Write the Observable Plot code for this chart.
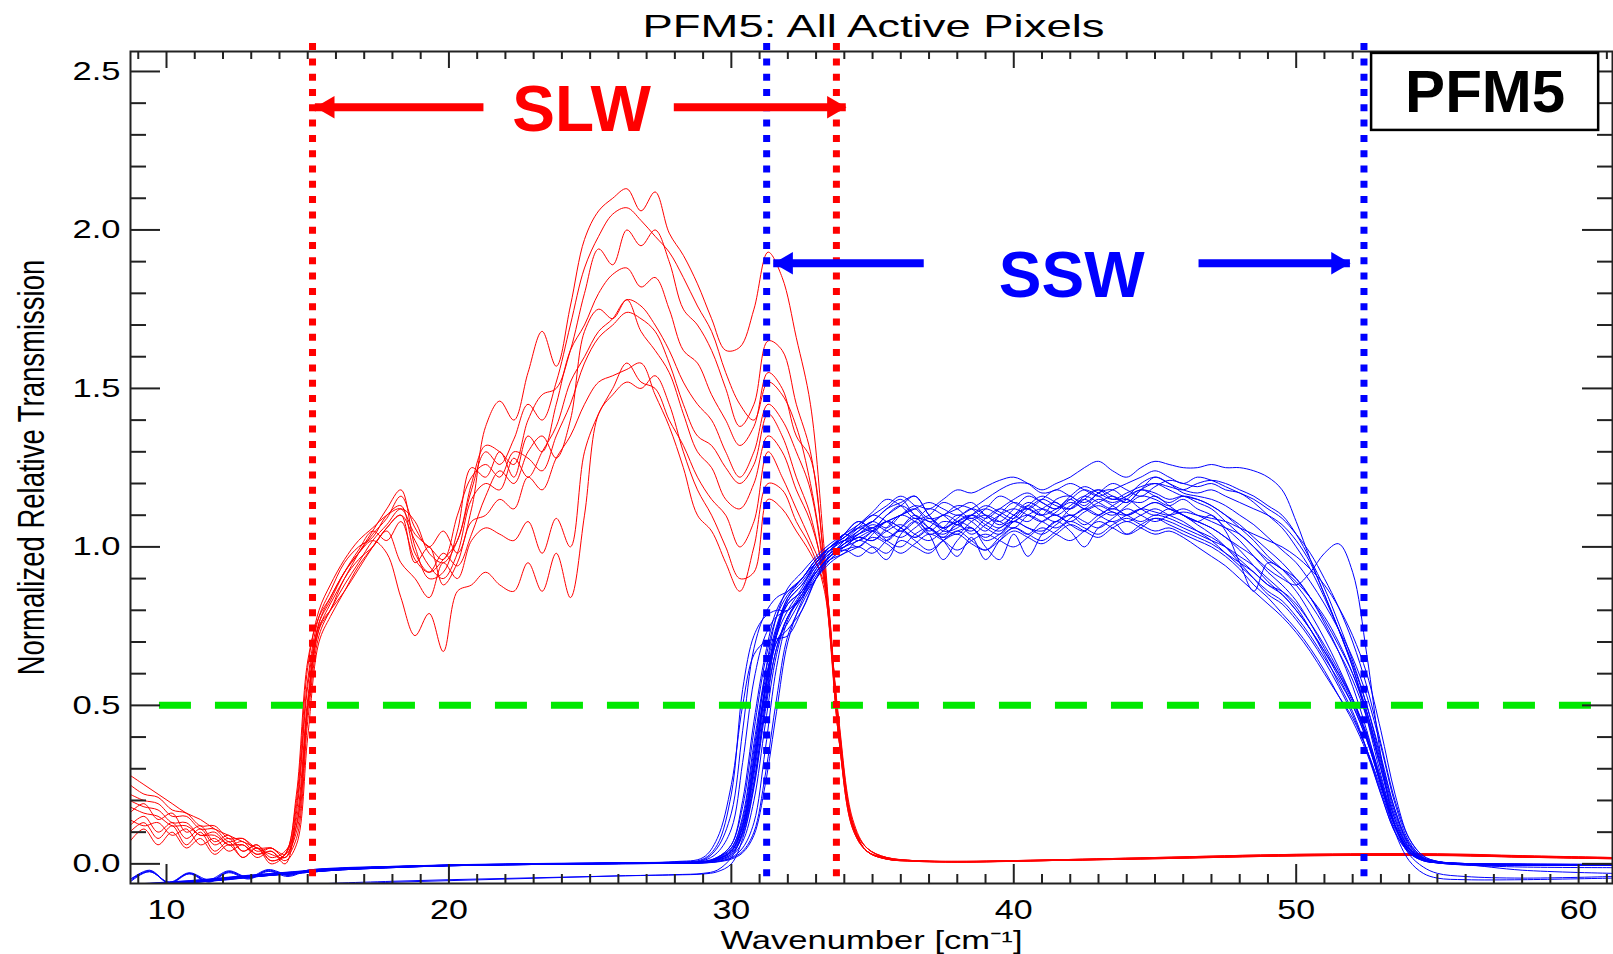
<!DOCTYPE html>
<html><head><meta charset="utf-8">
<script src="https://cdn.jsdelivr.net/npm/d3@7"></script>
<script src="https://cdn.jsdelivr.net/npm/@observablehq/plot@0.6"></script>
<style>
html,body{margin:0;padding:0;background:#fff;}
#chart svg{display:block;}
</style></head><body><div id="chart"></div>
<script>
// ---------- SLW (red) spectra: shared wavenumber grid + one array per pixel ----------
const slwX = [8.7,9.2,9.7,10.2,10.7,11.2,11.7,12.2,12.7,13.2,13.7,14.2,14.6,15.0,15.4,15.8,16.3,16.8,17.3,17.8,18.3,18.8,19.3,19.8,20.3,20.8,21.3,21.8,22.3,22.8,23.3,23.8,24.3,24.8,25.3,25.8,26.3,26.8,27.3,27.8,28.3,28.8,29.3,29.8,30.3,30.8,31.3,31.8,32.3,32.8,33.3,33.8,34.3,34.8,35.5,36.5,38,41,45,50,55,58,61.2];
const slwA = [0.12,0.15,0.10,0.13,0.08,0.11,0.06,0.08,0.04,0.06,0.02,0.04, 0.12,0.50,0.76,0.84, 0.92,0.98,1.04,1.09,1.16,1.06,1.00,1.05,0.98,1.12, 1.38,1.46,1.40,1.55,1.68,1.57,1.76,1.97,2.06,2.10, 2.13,2.06,2.12,1.99,1.92,1.83,1.72,1.62,1.63,1.75, 1.93,1.85,1.66,1.45,0.98,0.42,0.12,0.04, 0.015,0.008,0.005,0.01,0.018,0.027,0.028,0.022,0.018];
const slwB = [0.28,0.25,0.22,0.19,0.16,0.14,0.11,0.09,0.07,0.05,0.03,0.02, 0.08,0.45,0.72,0.80, 0.88,0.95,1.02,1.07,1.12,1.08,0.98,0.95,1.02,1.18, 1.30,1.26,1.34,1.45,1.40,1.52,1.70,1.88,1.98,2.05, 2.07,2.03,1.98,1.93,1.85,1.76,1.68,1.55,1.45,1.40, 1.52,1.48,1.38,1.20,0.92,0.45,0.13,0.04, 0.02,0.01,0.008,0.012,0.02,0.03,0.03,0.025,0.02];
const slwC = [0.20,0.18,0.17,0.13,0.13,0.09,0.10,0.06,0.07,0.03,0.05,0.02, 0.18,0.58,0.78,0.86, 0.95,1.00,1.03,1.10,1.13,0.98,0.92,0.96,1.02,1.20, 1.32,1.30,1.26,1.40,1.48,1.50,1.62,1.80,1.94,1.89, 2.00,1.95,2.00,1.90,1.75,1.70,1.62,1.50,1.38,1.45, 1.65,1.62,1.45,1.30,0.95,0.44,0.12,0.04, 0.015,0.01,0.007,0.01,0.017,0.026,0.027,0.022,0.017];
const slwD = [0.25,0.22,0.21,0.17,0.16,0.12,0.12,0.08,0.08,0.05,0.05,0.03, 0.10,0.48,0.74,0.82, 0.90,0.98,1.05,1.12,1.18,1.00,0.90,0.92,1.05,1.25, 1.22,1.30,1.22,1.35,1.30,1.45,1.62,1.70,1.80,1.86, 1.88,1.82,1.85,1.75,1.62,1.58,1.48,1.40,1.32,1.38, 1.55,1.50,1.35,1.28,0.93,0.46,0.14,0.05, 0.02,0.01,0.008,0.012,0.02,0.03,0.032,0.026,0.02];
const slwE = [0.16,0.19,0.14,0.16,0.10,0.12,0.07,0.09,0.04,0.06,0.01,0.03, 0.14,0.52,0.75,0.80, 0.86,0.93,1.00,1.06,1.10,1.02,0.94,0.90,0.98,1.15, 1.20,1.18,1.28,1.22,1.30,1.38,1.52,1.60,1.68,1.72, 1.78,1.76,1.70,1.62,1.52,1.45,1.40,1.30,1.22,1.30, 1.45,1.40,1.30,1.18,0.90,0.42,0.12,0.04, 0.015,0.009,0.006,0.01,0.016,0.025,0.026,0.021,0.016];
const slwF = [0.07,0.11,0.06,0.10,0.05,0.08,0.03,0.06,0.02,0.05,0.00,0.03, 0.20,0.62,0.80,0.88, 0.96,1.02,1.06,1.10,1.12,1.04,1.00,0.96,1.10,1.22, 1.26,1.22,1.30,1.28,1.24,1.35,1.45,1.58,1.66,1.70, 1.74,1.72,1.68,1.58,1.45,1.35,1.32,1.25,1.20,1.26, 1.42,1.35,1.22,1.10,0.88,0.40,0.11,0.04, 0.018,0.01,0.007,0.011,0.018,0.028,0.03,0.024,0.019];
const slwG = [0.10,0.13,0.08,0.12,0.06,0.10,0.04,0.07,0.02,0.05,0.01,0.03, 0.22,0.64,0.78,0.84, 0.92,0.98,1.02,0.98,0.84,0.72,0.79,0.67,0.86,0.88, 0.92,0.88,0.86,0.95,0.86,0.98,0.84,1.10,1.42,1.48, 1.52,1.50,1.54,1.45,1.30,1.18,1.10,1.00,0.90,0.92, 1.15,1.12,1.05,0.98,0.88,0.40,0.12,0.04, 0.015,0.008,0.006,0.01,0.016,0.025,0.027,0.021,0.016];
const slwH = [0.22,0.20,0.19,0.15,0.15,0.11,0.11,0.07,0.08,0.04,0.05,0.02, 0.12,0.50,0.74,0.80, 0.90,0.96,1.00,1.05,0.95,0.90,0.84,0.95,0.90,1.02, 1.06,1.04,1.02,1.08,0.98,1.09,1.00,1.30,1.42,1.50, 1.58,1.52,1.50,1.40,1.32,1.22,1.15,1.10,1.00,1.08, 1.30,1.22,1.12,1.02,0.90,0.42,0.12,0.05, 0.02,0.01,0.007,0.012,0.019,0.028,0.03,0.024,0.018];
const slwI = [0.18,0.16,0.15,0.12,0.12,0.09,0.09,0.06,0.06,0.03,0.04,0.01, 0.06,0.40,0.70,0.78, 0.86,0.94,1.00,1.06,1.10,0.95,1.00,0.88,0.95,1.08, 1.10,1.15,1.12,1.22,1.18,1.28,1.35,1.45,1.52,1.54, 1.56,1.58,1.48,1.38,1.25,1.10,1.05,0.95,0.86,1.00, 1.20,1.18,1.08,1.00,0.86,0.40,0.11,0.04, 0.016,0.009,0.006,0.01,0.017,0.026,0.028,0.022,0.017];
const slwJ = [0.14,0.12,0.13,0.09,0.11,0.06,0.08,0.04,0.06,0.02,0.04,0.00, 0.16,0.56,0.76,0.83, 0.92,0.99,1.05,1.02,1.08,0.96,0.92,0.98,0.94,1.04, 1.16,1.24,1.20,1.30,1.35,1.28,1.40,1.68,1.75,1.72, 1.78,1.68,1.62,1.55,1.42,1.30,1.25,1.15,1.12,1.20, 1.35,1.30,1.18,1.08,0.90,0.44,0.13,0.05, 0.018,0.01,0.007,0.011,0.018,0.027,0.029,0.023,0.018];
const slwCurves = [slwA, slwB, slwC, slwD, slwE, slwF, slwG, slwH, slwI, slwJ];

// ---------- SSW (blue) spectra ----------
const sswX = [8.7,9.4,10.1,10.8,11.5,12.2,12.9,13.6,14.3,15.0,16,18,20,22,24,26,28,29,29.5,30,30.4,30.8,31.2,31.6,32,32.5,33,33.5,34,34.5,35,35.5,36,36.5,37,37.5,38,38.5,39,39.5,40,40.5,41,41.5,42,42.5,43,43.5,44,44.5,45,45.5,46,46.5,47,47.5,48,48.5,49,49.5,50,50.5,51,51.5,52,52.5,53,53.5,54,54.5,55,56,58,61.2];
const ssw01 = [-0.07,-0.066,-0.062,-0.058,-0.052,-0.046,-0.04,-0.035,-0.03,-0.025,-0.018,-0.01,-0.005,-0.003,0,0,0.002, 0.005,0.02,0.06,0.2,0.45,0.66,0.8,0.86,0.9,0.96,1.0, 1.02,1.04,1.06,1.08,1.1,1.12,1.14,1.12,1.1,1.12,1.15,1.18,1.2,1.2,1.18,1.2,1.22,1.25,1.27,1.24,1.22,1.25,1.27,1.26,1.25,1.25,1.26,1.25,1.25,1.24,1.22, 1.18,1.08,0.96,0.85,0.74,0.62,0.46,0.28,0.13,0.05,0.015,0.006,0.001,-0.001,-0.002];
const ssw02 = [-0.075,-0.07,-0.066,-0.06,-0.055,-0.05,-0.043,-0.037,-0.032,-0.027,-0.02,-0.012,-0.006,-0.003,-0.001,0.001,0.003, 0.004,0.012,0.03,0.09,0.25,0.5,0.72,0.82,0.86,0.93,0.98, 1.0,1.03,1.02,1.06,1.1,1.08,1.04,1.06,1.1,1.08,1.05,1.1,1.14,1.12,1.1,1.15,1.16,1.13,1.17,1.18,1.15,1.14,1.16,1.13,1.1,1.08,1.1,1.05,0.95,0.86,0.95, 0.93,0.9,0.84,0.76,0.67,0.56,0.42,0.26,0.12,0.04,0.012,0.004,0,-0.003,-0.004];
const ssw03 = [-0.05,-0.02,-0.06,-0.03,-0.056,-0.024,-0.046,-0.02,-0.036,-0.02,-0.015,-0.009,-0.005,-0.002,0,0.001,0.003, 0.006,0.02,0.05,0.15,0.38,0.6,0.75,0.84,0.9,0.95,0.99, 1.04,1.02,1.05,1.1,1.13,1.1,1.05,1.08,1.07,1.05,1.09,1.12,1.1,1.08,1.12,1.14,1.1,1.12,1.15,1.13,1.1,1.12,1.14,1.12,1.1,1.08,1.06,1.03,1.0,0.97,0.93, 0.9,0.88,0.92,0.98,1.01,0.92,0.66,0.34,0.12,0.035,0.01,0.004,0,-0.002,-0.003];
const ssw04 = [-0.068,-0.064,-0.06,-0.056,-0.05,-0.044,-0.038,-0.033,-0.028,-0.023,-0.016,-0.009,-0.004,-0.002,0,0.002,0.004, 0.012,0.05,0.16,0.42,0.68,0.79,0.84,0.86,0.9,0.96,0.99, 1.0,1.04,1.06,1.02,1.0,1.04,1.06,1.03,1.05,1.06,1.02,1.04,1.08,1.06,1.05,1.08,1.1,1.07,1.1,1.12,1.1,1.08,1.1,1.09,1.07,1.05,1.03,1.0,0.96,0.92,0.88, 0.86,0.82,0.76,0.69,0.61,0.52,0.4,0.25,0.12,0.045,0.014,0.005,-0.002,-0.004,-0.005];
const ssw05 = [-0.07,-0.067,-0.063,-0.058,-0.053,-0.047,-0.041,-0.036,-0.031,-0.026,-0.019,-0.011,-0.006,-0.003,-0.001,0,0.002, 0.003,0.008,0.02,0.05,0.13,0.36,0.62,0.77,0.85,0.92,0.97, 1.01,1.05,1.08,1.12,1.15,1.1,1.08,1.06,1.08,1.1,1.12,1.1,1.08,1.12,1.15,1.13,1.12,1.16,1.18,1.15,1.16,1.2,1.22,1.2,1.18,1.17,1.18,1.16,1.14,1.12,1.1, 1.07,1.02,0.95,0.85,0.74,0.62,0.48,0.31,0.15,0.055,0.016,0.006,0,-0.002,-0.003];
const ssw06 = [-0.072,-0.068,-0.064,-0.059,-0.054,-0.048,-0.042,-0.036,-0.031,-0.026,-0.019,-0.011,-0.005,-0.002,0,0.001,0.003, 0.005,0.015,0.04,0.12,0.32,0.56,0.74,0.82,0.86,0.92,0.96, 0.98,1.02,1.0,0.96,1.04,1.08,1.04,0.96,1.02,1.06,1.0,0.96,1.04,0.97,1.04,1.08,1.05,1.0,1.06,1.08,1.04,1.06,1.09,1.08,1.06,1.04,1.02,1.0,0.97,0.94,0.9, 0.86,0.81,0.74,0.66,0.57,0.48,0.36,0.22,0.1,0.035,0.01,0.003,-0.003,-0.005,-0.005];
const ssw07 = [-0.05,-0.025,-0.058,-0.028,-0.05,-0.022,-0.042,-0.018,-0.033,-0.02,-0.013,-0.008,-0.004,-0.002,0,0.002,0.004, 0.006,0.02,0.06,0.18,0.42,0.64,0.78,0.85,0.9,0.96,1.0, 1.03,1.06,1.08,1.12,1.14,1.16,1.1,1.05,1.06,1.1,1.08,1.06,1.1,1.12,1.1,1.12,1.15,1.12,1.14,1.16,1.14,1.18,1.2,1.19,1.18,1.2,1.21,1.2,1.18,1.16,1.13, 1.1,1.04,0.96,0.87,0.76,0.64,0.5,0.33,0.17,0.065,0.02,0.007,0,-0.002,-0.003];
const ssw08 = [-0.074,-0.07,-0.065,-0.06,-0.055,-0.049,-0.043,-0.037,-0.032,-0.027,-0.02,-0.012,-0.006,-0.003,-0.001,0.001,0.003, 0.004,0.012,0.03,0.1,0.28,0.52,0.7,0.76,0.84,0.93,0.99, 1.02,1.0,1.04,1.08,1.06,1.03,1.06,1.1,1.08,1.04,1.07,1.1,1.12,1.1,1.08,1.11,1.14,1.12,1.1,1.13,1.15,1.12,1.1,1.12,1.1,1.07,1.04,1.0,0.95,0.9,0.85, 0.82,0.77,0.71,0.64,0.56,0.47,0.36,0.23,0.11,0.04,0.012,0.003,-0.004,-0.01,-0.012];
const ssw09 = [-0.09,-0.09,-0.088,-0.086,-0.083,-0.08,-0.077,-0.074,-0.071,-0.068,-0.065,-0.058,-0.053,-0.048,-0.043,-0.038,-0.034, -0.03,-0.02,0.02,0.1,0.3,0.55,0.74,0.83,0.88,0.95,1.0, 1.03,1.06,1.05,1.08,1.1,1.12,1.08,1.1,1.12,1.14,1.1,1.08,1.12,1.16,1.14,1.12,1.15,1.18,1.16,1.14,1.16,1.18,1.17,1.15,1.16,1.14,1.12,1.08,1.04,1.0,0.95, 0.91,0.86,0.79,0.71,0.62,0.52,0.4,0.25,0.1,0.01,-0.03,-0.045,-0.05,-0.05,-0.045];
const ssw10 = [-0.066,-0.062,-0.058,-0.054,-0.049,-0.043,-0.037,-0.032,-0.027,-0.022,-0.016,-0.009,-0.004,-0.001,0.001,0.003,0.005, 0.008,0.02,0.05,0.14,0.36,0.58,0.7,0.74,0.8,0.9,0.98, 1.04,1.08,1.05,1.02,1.06,1.1,1.06,1.03,1.08,1.1,1.07,1.05,1.09,1.13,1.1,1.08,1.12,1.15,1.12,1.1,1.13,1.16,1.15,1.13,1.15,1.12,1.1,1.06,1.02,0.97,0.92, 0.88,0.83,0.76,0.68,0.6,0.51,0.4,0.26,0.12,0.04,0.012,0.004,-0.001,-0.003,-0.004];
const ssw11 = [-0.069,-0.065,-0.061,-0.057,-0.051,-0.045,-0.04,-0.034,-0.029,-0.024,-0.017,-0.01,-0.005,-0.002,0,0.002,0.004, 0.006,0.016,0.04,0.12,0.3,0.54,0.72,0.83,0.88,0.94,0.99, 1.02,1.05,1.08,1.06,1.1,1.13,1.12,1.15,1.18,1.17,1.19,1.21,1.22,1.2,1.17,1.18,1.2,1.18,1.16,1.18,1.2,1.22,1.24,1.22,1.2,1.22,1.21,1.19,1.17,1.15,1.12, 1.09,1.04,0.98,0.9,0.81,0.7,0.56,0.38,0.2,0.08,0.025,0.008,0.001,-0.001,-0.002];
const ssw12 = [-0.073,-0.069,-0.065,-0.06,-0.054,-0.048,-0.042,-0.037,-0.032,-0.027,-0.02,-0.012,-0.006,-0.003,-0.001,0.001,0.003, 0.005,0.014,0.035,0.1,0.26,0.5,0.68,0.78,0.85,0.92,0.97, 0.99,0.97,1.0,0.98,1.02,1.0,0.98,1.02,1.05,1.02,0.99,1.03,1.06,1.04,1.02,1.05,1.08,1.06,1.04,1.07,1.09,1.07,1.05,1.06,1.04,1.02,1.0,0.97,0.93,0.88,0.84, 0.79,0.74,0.68,0.61,0.53,0.45,0.35,0.22,0.1,0.035,0.01,0.003,-0.003,-0.004,-0.005];
const ssw13 = [-0.055,-0.022,-0.062,-0.032,-0.058,-0.028,-0.048,-0.024,-0.04,-0.022,-0.016,-0.01,-0.005,-0.002,0,0.002,0.004, 0.005,0.015,0.04,0.12,0.34,0.6,0.78,0.87,0.92,0.97,1.01, 1.04,1.07,1.1,1.13,1.16,1.13,1.09,1.1,1.13,1.12,1.09,1.12,1.15,1.17,1.14,1.12,1.16,1.19,1.17,1.15,1.17,1.19,1.2,1.18,1.16,1.15,1.13,1.1,1.06,1.02,0.97, 0.93,0.88,0.82,0.75,0.67,0.58,0.46,0.3,0.14,0.05,0.014,0.004,-0.002,-0.02,-0.03];
const ssw14 = [-0.071,-0.067,-0.063,-0.059,-0.053,-0.047,-0.041,-0.035,-0.03,-0.025,-0.018,-0.01,-0.005,-0.002,0,0.001,0.002, 0.003,0.007,0.018,0.04,0.1,0.28,0.52,0.72,0.82,0.9,0.96, 1.0,1.03,1.02,1.05,1.07,1.04,1.02,1.05,1.08,1.06,1.03,1.06,1.08,1.06,1.04,1.07,1.1,1.08,1.06,1.09,1.12,1.1,1.08,1.1,1.12,1.1,1.08,1.06,1.04,1.0,0.96, 0.93,0.89,0.84,0.78,0.7,0.6,0.47,0.3,0.14,0.05,0.015,0.005,0,-0.002,-0.002];
const ssw15 = [-0.067,-0.063,-0.059,-0.055,-0.05,-0.044,-0.038,-0.033,-0.028,-0.023,-0.016,-0.009,-0.004,-0.001,0.001,0.003,0.006, 0.015,0.06,0.22,0.55,0.72,0.78,0.8,0.8,0.86,0.94,0.98, 1.01,1.04,1.07,1.05,1.03,1.06,1.09,1.06,1.04,1.08,1.1,1.08,1.06,1.1,1.12,1.1,1.08,1.11,1.13,1.11,1.1,1.12,1.14,1.12,1.1,1.08,1.06,1.03,0.99,0.94,0.89, 0.85,0.8,0.74,0.67,0.59,0.5,0.39,0.25,0.12,0.04,0.012,0.004,-0.001,-0.002,-0.003];
const ssw16 = [-0.07,-0.066,-0.062,-0.058,-0.052,-0.046,-0.04,-0.035,-0.03,-0.025,-0.018,-0.01,-0.005,-0.002,0,0.001,0.003, 0.005,0.015,0.04,0.11,0.3,0.55,0.73,0.84,0.89,0.95,1.0, 1.03,1.07,1.11,1.15,1.13,1.09,1.1,1.14,1.12,1.09,1.12,1.16,1.14,1.12,1.15,1.18,1.16,1.14,1.17,1.2,1.18,1.16,1.19,1.21,1.2,1.19,1.2,1.18,1.17,1.14,1.1, 1.06,1.0,0.93,0.84,0.74,0.63,0.5,0.34,0.17,0.06,0.018,0.006,0,-0.002,-0.002];
const ssw17 = [-0.069,-0.065,-0.061,-0.057,-0.051,-0.045,-0.039,-0.034,-0.029,-0.024,-0.017,-0.01,-0.005,-0.002,0,0.002,0.004, 0.01,0.035,0.11,0.32,0.58,0.72,0.78,0.8,0.84,0.92,0.97, 1.0,1.02,1.05,1.08,1.06,1.03,1.06,1.02,0.97,1.03,0.96,1.02,1.06,1.04,1.08,1.1,1.07,1.05,1.09,1.11,1.08,1.1,1.12,1.1,1.08,1.05,1.02,0.98,0.94,0.9,0.86, 0.83,0.78,0.72,0.65,0.58,0.5,0.39,0.25,0.12,0.045,0.014,0.005,-0.001,-0.003,-0.004];
const ssw18 = [-0.072,-0.068,-0.063,-0.059,-0.053,-0.047,-0.041,-0.036,-0.031,-0.026,-0.019,-0.011,-0.006,-0.003,-0.001,0.001,0.002, 0.003,0.006,0.015,0.035,0.09,0.25,0.48,0.7,0.83,0.91,0.97, 1.02,1.06,1.1,1.08,1.05,1.08,1.12,1.1,1.07,1.1,1.13,1.11,1.09,1.13,1.16,1.14,1.12,1.15,1.18,1.16,1.14,1.18,1.22,1.2,1.17,1.16,1.15,1.13,1.1,1.07,1.03, 0.99,0.95,0.89,0.82,0.74,0.65,0.53,0.37,0.19,0.07,0.02,0.007,0.001,-0.001,-0.002];
const ssw19 = [-0.065,-0.061,-0.057,-0.053,-0.048,-0.042,-0.036,-0.031,-0.026,-0.021,-0.015,-0.008,-0.003,0,0.002,0.004,0.007, 0.02,0.08,0.25,0.5,0.66,0.7,0.71,0.72,0.8,0.9,0.96, 0.99,1.0,0.98,1.02,1.05,1.02,0.99,1.02,1.04,1.01,0.99,1.02,1.05,1.03,1.01,1.04,1.07,1.05,1.03,1.06,1.08,1.06,1.04,1.05,1.03,1.0,0.97,0.94,0.9,0.86,0.82, 0.78,0.73,0.67,0.6,0.53,0.46,0.36,0.24,0.12,0.045,0.014,0.005,-0.001,-0.003,-0.004];
const ssw20 = [-0.058,-0.024,-0.06,-0.03,-0.054,-0.026,-0.044,-0.022,-0.037,-0.021,-0.015,-0.009,-0.005,-0.002,0,0.002,0.004, 0.006,0.018,0.045,0.13,0.33,0.56,0.72,0.8,0.87,0.95,1.0, 1.04,1.08,1.06,1.1,1.13,1.16,1.1,1.06,1.09,1.12,1.1,1.07,1.1,1.14,1.12,1.1,1.13,1.16,1.14,1.12,1.15,1.18,1.16,1.14,1.16,1.15,1.13,1.1,1.07,1.03,0.99, 0.95,0.9,0.84,0.77,0.69,0.6,0.48,0.32,0.16,0.06,0.018,0.006,0,-0.002,-0.003];
const ssw21 = [-0.071,-0.067,-0.063,-0.058,-0.053,-0.047,-0.041,-0.035,-0.03,-0.025,-0.018,-0.01,-0.005,-0.002,0,0.001,0.003, 0.004,0.01,0.025,0.07,0.2,0.44,0.66,0.78,0.85,0.92,0.97, 1.01,1.03,1.05,1.03,1.06,1.09,1.06,1.04,1.07,1.09,1.06,1.04,1.08,1.1,1.08,1.06,1.09,1.12,1.1,1.08,1.1,1.12,1.11,1.1,1.11,1.1,1.09,1.08,1.06,1.04,1.02, 1.0,0.97,0.93,0.88,0.81,0.72,0.6,0.42,0.22,0.08,0.025,0.008,0.001,-0.001,-0.002];
const ssw22 = [-0.088,-0.087,-0.085,-0.083,-0.08,-0.077,-0.074,-0.071,-0.068,-0.065,-0.061,-0.055,-0.05,-0.046,-0.042,-0.038,-0.035, -0.032,-0.025,0.0,0.08,0.24,0.48,0.68,0.78,0.84,0.9,0.95, 0.98,1.0,1.03,1.01,0.98,1.01,1.04,1.02,0.99,1.02,1.04,1.02,1.0,1.03,1.06,1.04,1.02,1.05,1.08,1.06,1.04,1.07,1.09,1.07,1.05,1.03,1.01,0.98,0.95,0.92,0.88, 0.85,0.8,0.74,0.67,0.6,0.52,0.41,0.27,0.12,0.03,-0.01,-0.03,-0.04,-0.045,-0.04];
const sswCurves = [ssw01,ssw02,ssw03,ssw04,ssw05,ssw06,ssw07,ssw08,ssw09,ssw10,ssw11,ssw12,ssw13,ssw14,ssw15,ssw16,ssw17,ssw18,ssw19,ssw20,ssw21,ssw22];

// ---------- annotations, ticks, texts ----------
const slwEdges = [15.17, 33.72];
const sswEdges = [31.25, 52.4];
const halfLevel = [0.5];
const halfSpan = [9.75, 60.5];
const edgeSpan = [2.588, -0.062];
const slwArrowY = 2.387, sswArrowY = 1.895;
const slwArrowSegs = [[15.27, 21.24], [27.98, 34.07]];
const sswArrowSegs = [[31.5, 36.83], [46.56, 51.92]];
const bandLabels = [
  {text: "SLW", x: 24.7, y: 2.311},
  {text: "SSW", x: 42.05, y: 1.79}
];
const boxSpan = {x1: 52.67, x2: 60.71, y1: 2.314, y2: 2.557};
const boxLabel = {text: "PFM5", x: 56.69, y: 2.372};
const titleText = "PFM5: All Active Pixels";
const xTitle = "Wavenumber [cm\u207B\u00B9]";
const yTitle = "Normalized Relative Transmission";
const majorX = [10, 20, 30, 40, 50, 60];
const majorXLabels = ["10", "20", "30", "40", "50", "60"];
const majorY = [0, 0.5, 1.0, 1.5, 2.0, 2.5];
const majorYLabels = ["0.0", "0.5", "1.0", "1.5", "2.0", "2.5"];
const minorX = d3.range(9, 62).filter(v => v % 10 !== 0);
const minorY = d3.range(0, 26).filter(v => v % 5 !== 0).map(v => v / 10);

// ---------- layout ----------
const W = 1613, H = 954, ML = 130, MR = 1, MT = 51, MB = 71;
const PW = W - ML - MR, PH = H - MT - MB;
const toRows = (xs, curves) => curves.flatMap((ys, k) => ys.map((y, i) => ({x: xs[i], y, id: k})));
const redRows = toRows(slwX, slwCurves);
const blueRows = toRows(sswX, sswCurves);
const segRows = (segs, y) => segs.map(([a, b]) => ({x1: a, x2: b, y}));
const AX = "#222";
const RED = "#ff0000", BLUE = "#0000ff";

const chart = Plot.plot({
  width: W, height: H,
  marginLeft: ML, marginRight: MR, marginTop: MT, marginBottom: MB,
  x: {domain: [8.725, 61.2], axis: null},
  y: {domain: [-0.062, 2.563], axis: null},
  style: {background: "#fff", fontFamily: "'Liberation Sans', Arial, Helvetica, sans-serif", color: "#000"},
  marks: [
    Plot.line(redRows, {x: "x", y: "y", z: "id", stroke: RED, strokeWidth: 1, curve: "catmull-rom", clip: true}),
    Plot.line(blueRows, {x: "x", y: "y", z: "id", stroke: BLUE, strokeWidth: 1, curve: "catmull-rom", clip: true}),
    Plot.ruleY(halfLevel, {y: d => d, x1: halfSpan[0], x2: halfSpan[1], stroke: "#00e800", strokeWidth: 7, strokeDasharray: "32,24"}),
    Plot.ruleX(slwEdges, {x: d => d, y1: edgeSpan[0], y2: edgeSpan[1], stroke: RED, strokeWidth: 7, strokeDasharray: "7,8.3"}),
    Plot.ruleX(sswEdges, {x: d => d, y1: edgeSpan[0], y2: edgeSpan[1], stroke: BLUE, strokeWidth: 7, strokeDasharray: "7,8.3"}),
    // frame + inward ticks on all four sides
    Plot.frame({stroke: AX, strokeWidth: 2}),
    Plot.tickX(majorX, {x: d => d, insetTop: PH - 19, stroke: AX, strokeWidth: 2}),
    Plot.tickX(minorX, {x: d => d, insetTop: PH - 9, stroke: AX, strokeWidth: 2}),
    Plot.tickX(majorX, {x: d => d, insetBottom: PH - 17, stroke: AX, strokeWidth: 2}),
    Plot.tickX(minorX, {x: d => d, insetBottom: PH - 8, stroke: AX, strokeWidth: 2}),
    Plot.tickY(majorY, {y: d => d, insetRight: PW - 30, stroke: AX, strokeWidth: 2}),
    Plot.tickY(minorY, {y: d => d, insetRight: PW - 16, stroke: AX, strokeWidth: 2}),
    Plot.tickY(majorY, {y: d => d, insetLeft: PW - 30, stroke: AX, strokeWidth: 2}),
    Plot.tickY(minorY, {y: d => d, insetLeft: PW - 15, stroke: AX, strokeWidth: 2}),
    // tick labels
    Plot.text(majorX, {x: d => d, text: (d, i) => majorXLabels[i], frameAnchor: "bottom", dy: 16, lineAnchor: "top", textAnchor: "middle", fontSize: 27, fill: "#000"}),
    Plot.text(majorY, {y: d => d, text: (d, i) => majorYLabels[i], frameAnchor: "left", dx: -10, lineAnchor: "middle", textAnchor: "end", fontSize: 26, fill: "#000"}),
    // arrows
    Plot.ruleY(segRows(slwArrowSegs, slwArrowY), {y: "y", x1: "x1", x2: "x2", stroke: RED, strokeWidth: 8}),
    Plot.ruleY(segRows(sswArrowSegs, sswArrowY), {y: "y", x1: "x1", x2: "x2", stroke: BLUE, strokeWidth: 8}),
    Plot.dot([{x: slwArrowSegs[0][0], y: slwArrowY}], {x: "x", y: "y", symbol: "triangle", r: 8.3, rotate: -90, dx: 12.7, fill: RED, stroke: "none"}),
    Plot.dot([{x: slwArrowSegs[1][1], y: slwArrowY}], {x: "x", y: "y", symbol: "triangle", r: 8.3, rotate: 90, dx: -12.7, fill: RED, stroke: "none"}),
    Plot.dot([{x: sswArrowSegs[0][0], y: sswArrowY}], {x: "x", y: "y", symbol: "triangle", r: 8.3, rotate: -90, dx: 12.7, fill: BLUE, stroke: "none"}),
    Plot.dot([{x: sswArrowSegs[1][1], y: sswArrowY}], {x: "x", y: "y", symbol: "triangle", r: 8.3, rotate: 90, dx: -12.7, fill: BLUE, stroke: "none"}),
    Plot.text(bandLabels.slice(0, 1), {x: "x", y: "y", text: "text", fill: RED, fontSize: 64, fontWeight: "bold", textAnchor: "middle", lineAnchor: "bottom"}),
    Plot.text(bandLabels.slice(1), {x: "x", y: "y", text: "text", fill: BLUE, fontSize: 64, fontWeight: "bold", textAnchor: "middle", lineAnchor: "bottom"}),
    // PFM5 box
    Plot.rect([boxSpan], {x1: "x1", x2: "x2", y1: "y1", y2: "y2", fill: "#fff", stroke: "#000", strokeWidth: 2.5}),
    Plot.text([boxLabel], {x: "x", y: "y", text: "text", fill: "#000", fontSize: 60, fontWeight: "bold", textAnchor: "middle", lineAnchor: "bottom"}),
    // titles
    Plot.text([titleText], {text: d => d, frameAnchor: "top", dy: -15, dx: 2, lineAnchor: "bottom", fontSize: 32, fill: "#000"}),
    Plot.text([xTitle], {text: d => d, frameAnchor: "bottom", dy: 65, lineAnchor: "bottom", fontSize: 26, fill: "#000"}),
    Plot.text([yTitle], {text: d => d, frameAnchor: "left", dx: -99, rotate: -90, textAnchor: "middle", lineAnchor: "middle", fontSize: 27.5, fill: "#000"})
  ]
});
document.getElementById("chart").appendChild(chart);

// The reference's axis lettering is horizontally stretched; widen those glyphs about their anchors
// (keeping Plot's own x/y line-anchor offsets untouched).
function stretch(match, s) {
  chart.querySelectorAll("text").forEach(t => {
    if (!match(t.textContent)) return;
    let tr = t.getAttribute("transform") || "";
    if (tr.includes("rotate")) tr = tr.replace("rotate", `scale(${s},1) rotate`);
    else tr = `${tr} scale(${s},1)`;
    t.setAttribute("transform", tr.trim());
  });
}
stretch(s => majorXLabels.includes(s), 1.26);
stretch(s => majorYLabels.includes(s), 1.33);
stretch(s => s === titleText, 1.42);
stretch(s => s === xTitle, 1.33);
stretch(s => s === yTitle, 1.37);
</script>
</body></html>
